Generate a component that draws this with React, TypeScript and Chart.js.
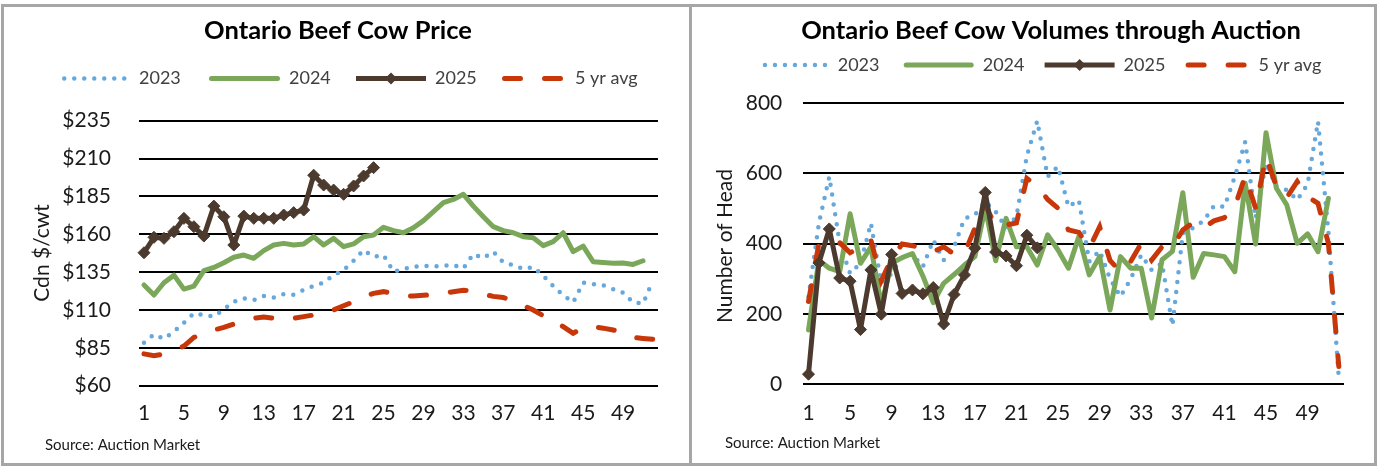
import React, { useEffect, useRef } from "react";
import { Chart, registerables } from "chart.js";

Chart.register(...registerables);
Chart.defaults.font.family = "Lato";

const weeks = ["1","2","3","4","5","6","7","8","9","10","11","12","13","14","15","16","17","18","19","20","21","22","23","24","25","26","27","28","29","30","31","32","33","34","35","36","37","38","39","40","41","42","43","44","45","46","47","48","49","50","51","52"];
const seriesNames = ["2023", "2024", "2025", "5 yr avg"];

// Price chart ($/cwt)
const price2023 = [88.4, 93.9, 91, 95.7, 101.6, 107.8, 106.7, 105.6, 110.4, 115.5, 117.7, 116.6, 119.2, 118.3, 120.5, 120.1, 123.2, 125.8, 128, 133.1, 136.4, 142.5, 149.6, 145.2, 146.3, 135.3, 137, 138.6, 139.2, 138.8, 139.2, 139.7, 137.5, 147, 144.3, 148.5, 141.4, 139.7, 137, 138.4, 132.6, 125.8, 119.7, 115, 128, 127.1, 126.3, 123.8, 121.4, 115, 114.2, 129.6];
const price2024 = [126.5, 119.9, 128, 133, 123.8, 125.8, 136, 138.1, 141.2, 144.8, 146.3, 144.1, 149.2, 152.9, 154, 152.9, 153.6, 158.4, 152.9, 157.3, 151.8, 153.6, 158.4, 159.5, 164.6, 162.4, 161, 164.3, 169, 174.9, 180.9, 183, 186.4, 178.6, 171.6, 165, 162.4, 161, 158.4, 157.7, 152.5, 155.1, 161, 148.5, 152.2, 141.9, 141.4, 140.8, 141, 140.1, 142.5, null];
const price2025 = [147.8, 158, 157.3, 161.7, 170.5, 165, 158.8, 178.6, 171.6, 152.9, 172, 170.5, 170.5, 170.5, 172.7, 174.3, 176, 199, 192.5, 189.2, 186.4, 191.9, 198.5, 204];
const price5yr = [81, 79.8, 81, 83, 86.2, 91.9, 94.5, 96.8, 98.5, 100.7, 102.3, 104.5, 105.4, 104.5, 103.4, 104.5, 105.6, 106.7, 107.8, 110, 112.8, 115.5, 118.8, 121, 122.1, 120.8, 119.5, 119.2, 119.7, 120.1, 121, 122.1, 123, 122.8, 120.5, 119, 118.2, 116.4, 113, 110, 106.2, 103.4, 99, 94.6, 98.5, 99, 98, 96.8, 95.2, 91.9, 91.2, 90.6];
const priceMin = 60;
const priceMax = 235;
const priceStep = 25;

// Volume chart (head)
const vol2023 = [249, 458, 591, 401, 315, 344, 458, 288, 315, 363, 370, 334, 410, 353, 391, 472, 482, 520, 491, 445, 477, 650, 750, 591, 620, 505, 524, 349, 380, 300, 249, 300, 368, 325, 344, 166, 430, 445, 465, 508, 505, 591, 690, 472, 630, 562, 553, 524, 570, 748, 434, 16];
const vol2024 = [154, 353, 330, 320, 485, 344, 391, 225, 345, 360, 372, 308, 232, 287, 312, 339, 363, 503, 351, 472, 391, 391, 339, 425, 382, 330, 420, 311, 363, 211, 363, 330, 330, 188, 354, 378, 545, 304, 372, 368, 363, 320, 572, 399, 716, 558, 510, 401, 428, 377, 529, null];
const vol2025 = [28, 345, 442, 302, 293, 155, 325, 199, 369, 258, 268, 257, 275, 171, 255, 311, 387, 546, 376, 365, 337, 424, 388];
const vol5yr = [235, 400, 401, 403, 374, 390, 411, 294, 358, 399, 394, 387, 377, 391, 370, 372, 444, 510, 450, 453, 459, 586, 564, 526, 501, 439, 432, 387, 448, 352, 320, 350, 401, 353, 391, 390, 439, 460, 445, 465, 474, 505, 593, 501, 648, 562, 532, 577, 534, 515, 401, 50];
const volMin = 0;
const volMax = 800;
const volStep = 200;

const BLUE = "#67A8DC";
const GREEN = "#7BA75A";
const BROWN = "#4B3A2D";
const RED = "#C8370A";
const TEXT = "#1a1a1a";
const LEGEND_TEXT = "#404040";

function makeDatasets(d23: any[], d24: any[], d25: any[], d5: any[]) {
  return [
    { label: seriesNames[0], data: d23, borderColor: BLUE, backgroundColor: BLUE, borderWidth: 4.5, borderDash: [0, 10], borderCapStyle: "round", pointRadius: 0, tension: 0, order: 3, clip: 12 },
    { label: seriesNames[1], data: d24, borderColor: GREEN, backgroundColor: GREEN, borderWidth: 5, borderJoinStyle: "round", borderCapStyle: "round", pointRadius: 0, tension: 0, order: 2, clip: 12 },
    { label: seriesNames[2], data: d25, borderColor: BROWN, backgroundColor: BROWN, borderWidth: 5, borderJoinStyle: "round", pointStyle: "rectRot", pointRadius: 6, pointBorderWidth: 1, pointBackgroundColor: BROWN, pointBorderColor: BROWN, tension: 0, order: 0, clip: 12 },
    { label: seriesNames[3], data: d5, borderColor: RED, backgroundColor: RED, borderWidth: 5, borderDash: [16, 24], borderCapStyle: "round", pointRadius: 0, tension: 0, order: 1, clip: 12 },
  ];
}

type Decor = {
  title: string; titleX: number; titleY: number; titleSize: number;
  legendY: number; legendX: number[]; legendLen: number[];
  yTitle: string; yTitleX: number; yTitleY: number;
  sourceX: number; sourceY: number;
};

function makeDecorPlugin(d: Decor) {
  return {
    id: "decor",
    afterDraw(chart: any) {
      const ctx = chart.ctx as CanvasRenderingContext2D;
      ctx.save();
      // Title
      ctx.font = `bold ${d.titleSize}px Lato`;
      ctx.fillStyle = "#000";
      ctx.textAlign = "center";
      ctx.textBaseline = "middle";
      ctx.fillText(d.title, d.titleX, d.titleY);
      // Legend
      chart.data.datasets.forEach((ds: any, i: number) => {
        const x0 = d.legendX[i];
        const len = d.legendLen[i];
        const y = d.legendY;
        ctx.save();
        ctx.strokeStyle = ds.borderColor;
        ctx.lineWidth = ds.borderWidth;
        ctx.lineCap = ds.borderCapStyle || "butt";
        ctx.setLineDash(ds.borderDash || []);
        const cap = ctx.lineCap === "round" ? ds.borderWidth / 2 : 0;
        ctx.beginPath();
        ctx.moveTo(x0 + cap, y);
        ctx.lineTo(x0 + len - cap, y);
        ctx.stroke();
        ctx.restore();
        if (ds.pointStyle === "rectRot") {
          const cx = x0 + len / 2;
          const r = ds.pointRadius;
          ctx.beginPath();
          ctx.moveTo(cx, y - r);
          ctx.lineTo(cx + r, y);
          ctx.lineTo(cx, y + r);
          ctx.lineTo(cx - r, y);
          ctx.closePath();
          ctx.fillStyle = ds.borderColor;
          ctx.fill();
        }
        ctx.font = "18px Lato";
        ctx.fillStyle = LEGEND_TEXT;
        ctx.textAlign = "left";
        ctx.textBaseline = "middle";
        ctx.fillText(ds.label, x0 + len + 9, y);
      });
      // Y axis title
      ctx.save();
      ctx.translate(d.yTitleX, d.yTitleY);
      ctx.rotate(-Math.PI / 2);
      ctx.font = "21px Lato";
      ctx.fillStyle = TEXT;
      ctx.textAlign = "center";
      ctx.textBaseline = "middle";
      ctx.fillText(d.yTitle, 0, 0);
      ctx.restore();
      // Source
      ctx.font = "15px Lato";
      ctx.fillStyle = TEXT;
      ctx.textAlign = "left";
      ctx.textBaseline = "middle";
      ctx.fillText("Source: Auction Market", d.sourceX, d.sourceY);
      ctx.restore();
    },
  };
}

type PanelCfg = {
  left: number; width: number;
  areaLeft: number; areaTop: number; areaRightPad: number; areaBottom: number;
  yMin: number; yMax: number; yStep: number; yFmt: (v: number) => string;
  yPad: number; xPad: number;
  datasets: any[];
  decor: Decor;
};

function LinePanel({ cfg }: { cfg: PanelCfg }) {
  const ref = useRef<HTMLCanvasElement>(null);
  useEffect(() => {
    const canvas = ref.current!;
    const H = 468;
    const chart = new Chart(canvas, {
      type: "line",
      data: { labels: weeks, datasets: cfg.datasets },
      options: {
        responsive: false,
        animation: false,
        events: [],
        layout: { padding: { left: 0, top: cfg.areaTop, right: cfg.areaRightPad, bottom: 0 } },
        plugins: { legend: { display: false }, title: { display: false }, tooltip: { enabled: false } },
        scales: {
          x: {
            type: "category",
            offset: true,
            grid: { display: false, drawTicks: false },
            border: { display: false },
            ticks: {
              autoSkip: false,
              maxRotation: 0,
              minRotation: 0,
              padding: cfg.xPad,
              color: TEXT,
              font: { size: 21 },
              callback: (_v: any, i: number) => (i % 4 === 0 ? weeks[i] : ""),
            },
            afterFit: (s: any) => { s.height = H - cfg.areaBottom; },
          },
          y: {
            min: cfg.yMin,
            max: cfg.yMax,
            grid: { color: "#000", lineWidth: 2, drawTicks: false },
            border: { display: false },
            ticks: {
              stepSize: cfg.yStep,
              padding: cfg.yPad,
              color: TEXT,
              font: { size: 21 },
              callback: (v: any) => cfg.yFmt(Number(v)),
            },
            afterFit: (s: any) => { s.width = cfg.areaLeft; },
          },
        },
      } as any,
      plugins: [makeDecorPlugin(cfg.decor)],
    });
    (document as any).fonts?.ready?.then(() => { try { chart.update("none"); } catch (e) {} });
    return () => chart.destroy();
  }, []);
  return (
    <canvas
      ref={ref}
      width={cfg.width}
      height={468}
      style={{ position: "absolute", left: cfg.left, top: 0, width: cfg.width, height: 468 }}
    />
  );
}

const priceCfg: PanelCfg = {
  left: 0, width: 690,
  areaLeft: 139, areaTop: 120.7, areaRightPad: 32, areaBottom: 385.7,
  yMin: priceMin, yMax: priceMax, yStep: priceStep, yFmt: (v) => "$" + v,
  yPad: 28, xPad: 15,
  datasets: makeDatasets(price2023, price2024, price2025, price5yr),
  decor: {
    title: "Ontario Beef Cow Price", titleX: 338, titleY: 31, titleSize: 25.5,
    legendY: 78.5, legendX: [62, 209, 356, 502], legendLen: [68, 71, 70, 64],
    yTitle: "Cdn $/cwt", yTitleX: 42, yTitleY: 253,
    sourceX: 45, sourceY: 445,
  },
};

const volCfg: PanelCfg = {
  left: 690, width: 688,
  areaLeft: 113.3, areaTop: 103.3, areaRightPad: 34, areaBottom: 384,
  yMin: volMin, yMax: volMax, yStep: volStep, yFmt: (v) => String(v),
  yPad: 21, xPad: 17,
  datasets: makeDatasets(vol2023, vol2024, vol2025, vol5yr),
  decor: {
    title: "Ontario Beef Cow Volumes through Auction", titleX: 361, titleY: 31, titleSize: 25.5,
    legendY: 65, legendX: [72.7, 213.7, 354.6, 495.6], legendLen: [66, 70, 70, 64],
    yTitle: "Number of Head", yTitleX: 35, yTitleY: 246,
    sourceX: 35, sourceY: 443,
  },
};

export default function App() {
  const border = "3px solid #a6a6a6";
  return (
    <div style={{ position: "fixed", left: 0, top: 0, width: 1378, height: 468, background: "#fff", overflow: "hidden" }}>
      <LinePanel cfg={priceCfg} />
      <LinePanel cfg={volCfg} />
      <div style={{ position: "absolute", left: 1, top: 4, width: 691, height: 462, border, boxSizing: "border-box", pointerEvents: "none" }} />
      <div style={{ position: "absolute", left: 689, top: 4, width: 688, height: 462, border, boxSizing: "border-box", pointerEvents: "none" }} />
    </div>
  );
}
